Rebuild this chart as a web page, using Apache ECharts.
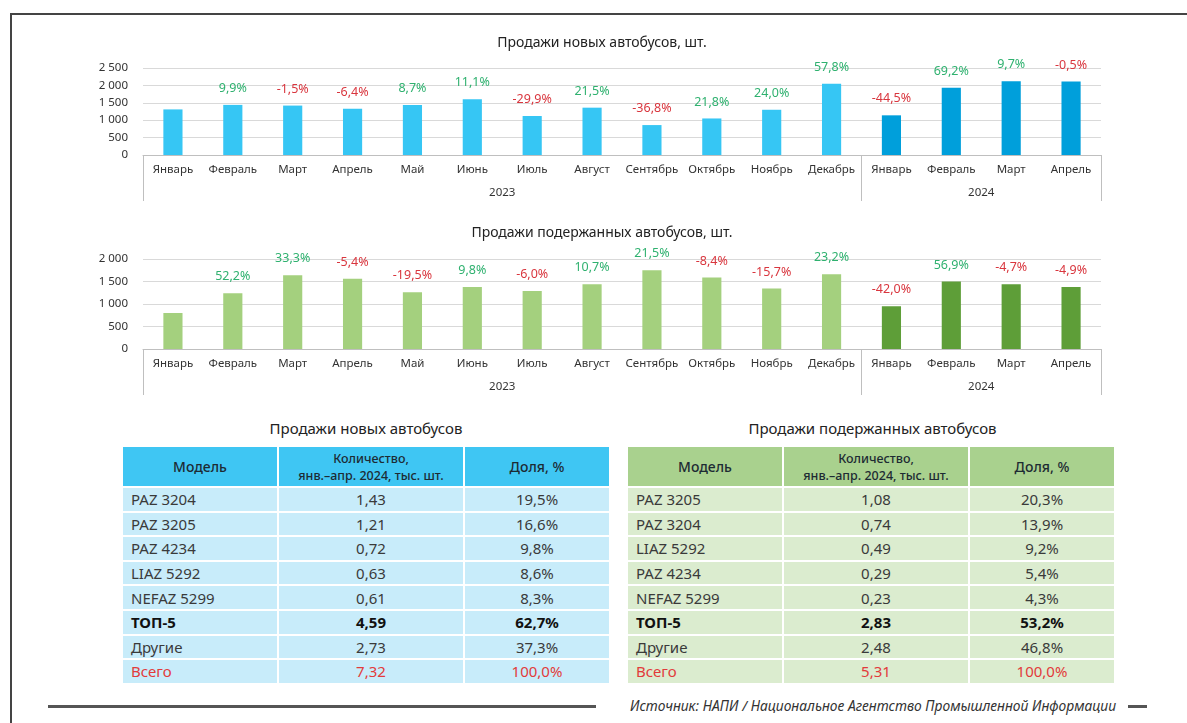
<!DOCTYPE html>
<html>
<head>
<meta charset="utf-8">
<script src="https://cdn.jsdelivr.net/npm/echarts@6.0.0/dist/echarts.min.js"></script>
<style>
  body { margin: 0; background: #fff; font-family: 'Noto Sans', 'Open Sans', sans-serif; }
  #page { position: relative; width: 1187px; height: 723px; overflow: hidden; }
  #chart { position: absolute; left: 0; top: 0; width: 1187px; height: 400px; }
  .frame { position: absolute; left: 10px; top: 13px; width: 1200px; height: 720px;
           border-top: 2px solid #444; border-left: 2px solid #444; }
  .tblTitle { position: absolute; top: 418px; font-size: 15px; color: #222; text-align: center; }
  table.t { position: absolute; top: 445px; border-collapse: collapse; table-layout: fixed; font-size: 15px; color: #3a3a3a; }
  table.t td, table.t th { border: 2px solid #fff; padding: 0 8px; height: 22.6px; line-height: 20px; white-space: nowrap; }
  table.t th { height: 39px; font-weight: 500; color: #1d2b33; font-size: 14px; line-height: 17px; }
  table.t th.small { font-size: 12.5px; padding: 0 2px; }
  table.t td.c { text-align: center; }
  table.t tr.top5 td { font-weight: bold; color: #111; }
  table.t tr.total td { color: #e23b3b; }
  .blue th { background: #3fc6f3; }
  .blue td { background: #c8ecfa; }
  .green th { background: #a9d18e; }
  .green td { background: #dbeccf; }
  .footLine { position: absolute; left: 48px; top: 705px; width: 548px; height: 3px; background: #555; }
  .footDash { position: absolute; left: 1128px; top: 705px; width: 19px; height: 3px; background: #555; }
  .source { position: absolute; left: 630px; top: 696px; font-size: 13.8px; font-style: italic; color: #333; white-space: nowrap; }
</style>
</head>
<body>
<div id="page">
  <div class="frame"></div>
  <div id="chart"></div>
  <div class="tblTitle" style="left:122px;width:488px">Продажи новых автобусов</div>
  <table class="t blue" id="tNew" style="left:121px"></table>
  <div class="tblTitle" style="left:627px;width:491px">Продажи подержанных автобусов</div>
  <table class="t green" id="tUsed" style="left:626px"></table>
  <div class="footLine"></div>
  <div class="source">Источник: НАПИ / Национальное Агентство Промышленной Информации</div>
  <div class="footDash"></div>
</div>
<script>
// месяцы и годы
var months = ['Январь', 'Февраль', 'Март', 'Апрель', 'Май', 'Июнь', 'Июль', 'Август',
  'Сентябрь', 'Октябрь', 'Ноябрь', 'Декабрь', 'Январь', 'Февраль', 'Март', 'Апрель']
var years = ['2023', '2024']
var yearSpans = [12, 4]

// продажи новых автобусов, шт.
var newSales = [1310, 1440, 1420, 1330, 1440, 1600, 1120, 1360, 860, 1050, 1300, 2050, 1140, 1930, 2120, 2110]
var newGrowth = [null, 9.9, -1.5, -6.4, 8.7, 11.1, -29.9, 21.5, -36.8, 21.8, 24.0, 57.8, -44.5, 69.2, 9.7, -0.5]

// продажи подержанных автобусов, шт.
var usedSales = [800, 1240, 1640, 1560, 1260, 1380, 1290, 1440, 1750, 1590, 1345, 1660, 950, 1500, 1440, 1380]
var usedGrowth = [null, 52.2, 33.3, -5.4, -19.5, 9.8, -6.0, 10.7, 21.5, -8.4, -15.7, 23.2, -42.0, 56.9, -4.7, -4.9]

// таблицы
var tableHeader = ['Модель', 'Количество,<br>янв.–апр. 2024, тыс. шт.', 'Доля, %']
var newModels = ['PAZ 3204', 'PAZ 3205', 'PAZ 4234', 'LIAZ 5292', 'NEFAZ 5299', 'ТОП-5', 'Другие', 'Всего']
var newQty = ['1,43', '1,21', '0,72', '0,63', '0,61', '4,59', '2,73', '7,32']
var newShare = ['19,5%', '16,6%', '9,8%', '8,6%', '8,3%', '62,7%', '37,3%', '100,0%']
var usedModels = ['PAZ 3205', 'PAZ 3204', 'LIAZ 5292', 'PAZ 4234', 'NEFAZ 5299', 'ТОП-5', 'Другие', 'Всего']
var usedQty = ['1,08', '0,74', '0,49', '0,29', '0,23', '2,83', '2,48', '5,31']
var usedShare = ['20,3%', '13,9%', '9,2%', '5,4%', '4,3%', '53,2%', '46,8%', '100,0%']

var FONT = "'Noto Sans', sans-serif"

function fmtThousands(v) {
  return String(v).replace(/\B(?=(\d{3})+(?!\d))/g, ' ')
}

function fmtGrowth(g) {
  if (g === null) return ''
  var s = g.toFixed(1).replace('.', ',') + '%'
  return g < 0 ? '{neg|' + s + '}' : '{pos|' + s + '}'
}

// границы и центры годов на второй оси
var bounds = [0]
var centers = []
yearSpans.forEach(function (s, i) {
  centers.push(bounds[i] + s / 2)
  bounds.push(bounds[i] + s)
})

function makeAxes(gi) {
  return [
    {
      type: 'category', gridIndex: gi, data: months,
      axisTick: { show: false },
      axisLine: { lineStyle: { color: '#bfbfbf' } },
      axisLabel: { interval: 0, margin: 9, fontSize: 11.5, color: '#333', fontFamily: FONT }
    },
    {
      type: 'value', gridIndex: gi, position: 'bottom', min: 0, max: months.length,
      splitLine: { show: false },
      axisLine: { show: false },
      axisTick: { show: true, customValues: bounds, length: 46, lineStyle: { color: '#bfbfbf' } },
      axisLabel: {
        customValues: centers, margin: 32, fontSize: 11.5, color: '#333', fontFamily: FONT,
        formatter: function (v) { return years[centers.indexOf(v)] }
      }
    }
  ]
}

function makeSeries(gi, values, growth, c1, c2) {
  return {
    type: 'bar', xAxisIndex: gi * 2, yAxisIndex: gi,
    barWidth: '32%',
    data: values,
    itemStyle: {
      color: function (p) { return p.dataIndex < yearSpans[0] ? c1 : c2 }
    },
    label: {
      show: true, position: 'top', distance: 10,
      formatter: function (p) { return fmtGrowth(growth[p.dataIndex]) },
      rich: {
        pos: { color: '#2fb16f', fontSize: 12.5, fontFamily: FONT },
        neg: { color: '#d9363e', fontSize: 12.5, fontFamily: FONT }
      }
    }
  }
}

var yAxisBase = {
  type: 'value', min: 0, interval: 500,
  axisLine: { show: false },
  axisTick: { show: false },
  splitLine: { lineStyle: { color: '#d9d9d9' } },
  axisLabel: { margin: 15, fontSize: 11.5, color: '#333', fontFamily: FONT, formatter: fmtThousands }
}

var myChart = echarts.init(document.getElementById('chart'))
myChart.setOption({
  animation: false,
  title: [
    { text: 'Продажи новых автобусов, шт.', left: 597, top: 31, textAlign: 'center',
      textStyle: { fontSize: 14, fontWeight: 'normal', color: '#222', fontFamily: FONT } },
    { text: 'Продажи подержанных автобусов, шт.', left: 597, top: 221, textAlign: 'center',
      textStyle: { fontSize: 14, fontWeight: 'normal', color: '#222', fontFamily: FONT } }
  ],
  grid: [
    { left: 143, width: 958, top: 68, height: 87 },
    { left: 143, width: 958, top: 259, height: 90 }
  ],
  xAxis: makeAxes(0).concat(makeAxes(1)),
  yAxis: [
    Object.assign({}, yAxisBase, { gridIndex: 0, max: 2500 }),
    Object.assign({}, yAxisBase, { gridIndex: 1, max: 2000 })
  ],
  series: [
    makeSeries(0, newSales, newGrowth, '#36c6f4', '#009fdb'),
    makeSeries(1, usedSales, usedGrowth, '#a4d07e', '#5e9e38')
  ]
})

// таблицы строятся из массивов
function buildTable(id, models, qty, share) {
  var widths = [156, 186, 146]
  var html = '<colgroup>' + widths.map(function (w) { return '<col style="width:' + w + 'px">' }).join('') + '</colgroup>'
  html += '<tr>' + tableHeader.map(function (h, i) {
    return '<th' + (i === 1 ? ' class="small"' : '') + '>' + h + '</th>'
  }).join('') + '</tr>'
  models.forEach(function (m, i) {
    var cls = m === 'ТОП-5' ? ' class="top5"' : (i === models.length - 1 ? ' class="total"' : '')
    html += '<tr' + cls + '><td>' + m + '</td><td class="c">' + qty[i] + '</td><td class="c">' + share[i] + '</td></tr>'
  })
  document.getElementById(id).innerHTML = html
}
buildTable('tNew', newModels, newQty, newShare)
buildTable('tUsed', usedModels, usedQty, usedShare)
</script>
</body>
</html>
